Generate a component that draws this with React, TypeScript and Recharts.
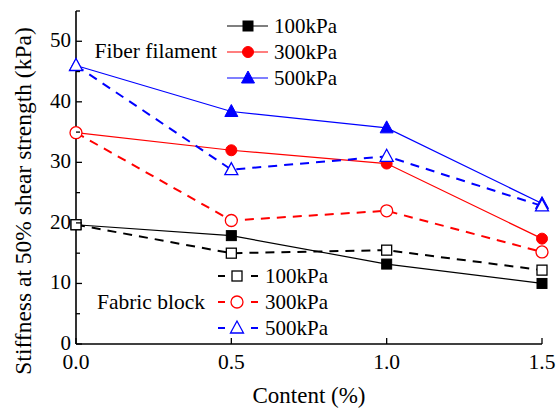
import React from "react";
import { LineChart, Line, XAxis, YAxis } from "recharts";

const content = [0, 0.5, 1.0, 1.5];
const fiber100 = [19.7, 17.9, 13.2, 10.0];
const fiber300 = [34.9, 32.0, 29.8, 17.4];
const fiber500 = [46.0, 38.4, 35.7, 23.2];
const fabric100 = [19.7, 15.0, 15.5, 12.2];
const fabric300 = [34.9, 20.4, 22.0, 15.2];
const fabric500 = [46.0, 28.8, 31.0, 22.8];

const xTicks = [0, 0.5, 1.0, 1.5];
const yTicks = [0, 5, 10, 15, 20, 25, 30, 35, 40, 45, 50, 55];

const data = content.map((c, i) => ({
  c,
  fi100: fiber100[i],
  fi300: fiber300[i],
  fi500: fiber500[i],
  fa100: fabric100[i],
  fa300: fabric300[i],
  fa500: fabric500[i],
}));

const FONT = "Liberation Serif, Times New Roman, serif";

type Kind = "square" | "circle" | "triangle";

function Marker({ cx, cy, kind, color, filled }: { cx: number; cy: number; kind: Kind; color: string; filled: boolean }) {
  const fill = filled ? color : "#fff";
  const sw = filled ? 1 : 1.3;
  if (kind === "square") {
    return <rect x={cx - 5} y={cy - 5} width={10} height={10} fill={fill} stroke={color} strokeWidth={sw} />;
  }
  if (kind === "circle") {
    const r = filled ? 5.5 : 6;
    return <circle cx={cx} cy={cy} r={r} fill={fill} stroke={color} strokeWidth={sw} />;
  }
  return (
    <polygon
      points={`${cx},${cy - 7} ${cx - 6.5},${cy + 5} ${cx + 6.5},${cy + 5}`}
      fill={fill}
      stroke={color}
      strokeWidth={sw}
    />
  );
}

const dotFor = (kind: Kind, color: string, filled: boolean) => (p: any) =>
  <Marker key={`${kind}-${filled}-${p.index}`} cx={p.cx} cy={p.cy} kind={kind} color={color} filled={filled} />;

const XTick = (p: any) => (
  <g>
    <line x1={p.x} x2={p.x} y1={p.y} y2={p.y - 6} stroke="#000" strokeWidth={1.3} />
    <text x={p.x} y={p.y + 25} textAnchor="middle" fontFamily={FONT} fontSize={21.5} fill="#000">
      {Number(p.payload.value).toFixed(1)}
    </text>
  </g>
);

const YTick = (p: any) => {
  const v = p.payload.value;
  const major = v % 10 === 0;
  return (
    <g>
      <line x1={p.x} x2={p.x + (major ? 6 : 4)} y1={p.y} y2={p.y} stroke="#000" strokeWidth={1.3} />
      {major && (
        <text x={p.x - 5} y={p.y + 6} textAnchor="end" fontFamily={FONT} fontSize={21} fill="#000">
          {v}
        </text>
      )}
    </g>
  );
};

const YTitle = () => (
  <text x={31} y={201} transform="rotate(-90, 31, 201)" textAnchor="middle" fontFamily={FONT} fontSize={23.5} fill="#000">
    Stiffness at 50% shear strength (kPa)
  </text>
);

const XTitle = (p: any) => {
  const vb = p.viewBox;
  const cx = vb.x + vb.width / 2;
  return (
    <text x={cx} y={403} textAnchor="middle" fontFamily={FONT} fontSize={23} fill="#000">
      Content (%)
    </text>
  );
};

const legendTop = [
  { label: "100kPa", kind: "square" as Kind, color: "#000" },
  { label: "300kPa", kind: "circle" as Kind, color: "#ff0000" },
  { label: "500kPa", kind: "triangle" as Kind, color: "#0000ff" },
];

export default function App() {
  return (
    <div style={{ position: "absolute", left: 0, top: 0, width: 556, height: 412, background: "#fff" }}>
      <LineChart width={556} height={412} data={data} margin={{ top: 11, right: 14, left: 0, bottom: 0 }}>
        <XAxis
          dataKey="c"
          type="number"
          domain={[0, 1.5]}
          ticks={xTicks}
          tickSize={0}
          tickMargin={0}
          tick={<XTick />}
          height={68}
          stroke="#000"
          strokeWidth={1.6}
          label={{ content: XTitle }}
        />
        <XAxis xAxisId="top" orientation="top" dataKey="c" type="number" domain={[0, 1.5]} tick={false} tickLine={false} height={0} stroke="#000" strokeWidth={1.6} />
        <YAxis
          type="number"
          domain={[0, 55]}
          ticks={yTicks}
          tickSize={0}
          tickMargin={0}
          tick={<YTick />}
          width={76}
          stroke="#000"
          strokeWidth={1.6}
          interval={0}
          label={{ content: YTitle }}
        />
        <YAxis yAxisId="right" orientation="right" domain={[0, 55]} tick={false} tickLine={false} width={0} stroke="#000" strokeWidth={1.6} />

        <Line dataKey="fi100" stroke="#000" strokeWidth={1.2} dot={dotFor("square", "#000", true)} isAnimationActive={false} />
        <Line dataKey="fi300" stroke="#ff0000" strokeWidth={1.2} dot={dotFor("circle", "#ff0000", true)} isAnimationActive={false} />
        <Line dataKey="fi500" stroke="#0000ff" strokeWidth={1.2} dot={dotFor("triangle", "#0000ff", true)} isAnimationActive={false} />
        <Line dataKey="fa100" stroke="#000" strokeWidth={2} strokeDasharray="9 7" dot={dotFor("square", "#000", false)} isAnimationActive={false} />
        <Line dataKey="fa300" stroke="#ff0000" strokeWidth={2} strokeDasharray="9 7" dot={dotFor("circle", "#ff0000", false)} isAnimationActive={false} />
        <Line dataKey="fa500" stroke="#0000ff" strokeWidth={2} strokeDasharray="9 7" dot={dotFor("triangle", "#0000ff", false)} isAnimationActive={false} />
      </LineChart>

      <svg width={556} height={412} style={{ position: "absolute", left: 0, top: 0, pointerEvents: "none" }}>
        <text x={217} y={58} textAnchor="end" fontFamily={FONT} fontSize={21.5} fill="#000">Fiber filament</text>
        {legendTop.map((e, i) => {
          const y = 26 + i * 26;
          return (
            <g key={e.label}>
              <line x1={227} x2={268} y1={y} y2={y} stroke={e.color} strokeWidth={1.2} />
              <Marker cx={248} cy={y} kind={e.kind} color={e.color} filled />
              <text x={274} y={y + 7} fontFamily={FONT} fontSize={21} fill="#000">{e.label}</text>
            </g>
          );
        })}
        <text x={205} y={309} textAnchor="end" fontFamily={FONT} fontSize={21.5} fill="#000">Fabric block</text>
        {legendTop.map((e, i) => {
          const y = 276 + i * 26;
          return (
            <g key={"b" + e.label}>
              <line x1={218} x2={225} y1={y} y2={y} stroke={e.color} strokeWidth={2} />
              <line x1={251} x2={258} y1={y} y2={y} stroke={e.color} strokeWidth={2} />
              <Marker cx={237} cy={y} kind={e.kind} color={e.color} filled={false} />
              <text x={265} y={y + 7} fontFamily={FONT} fontSize={21} fill="#000">{e.label}</text>
            </g>
          );
        })}
      </svg>
    </div>
  );
}
